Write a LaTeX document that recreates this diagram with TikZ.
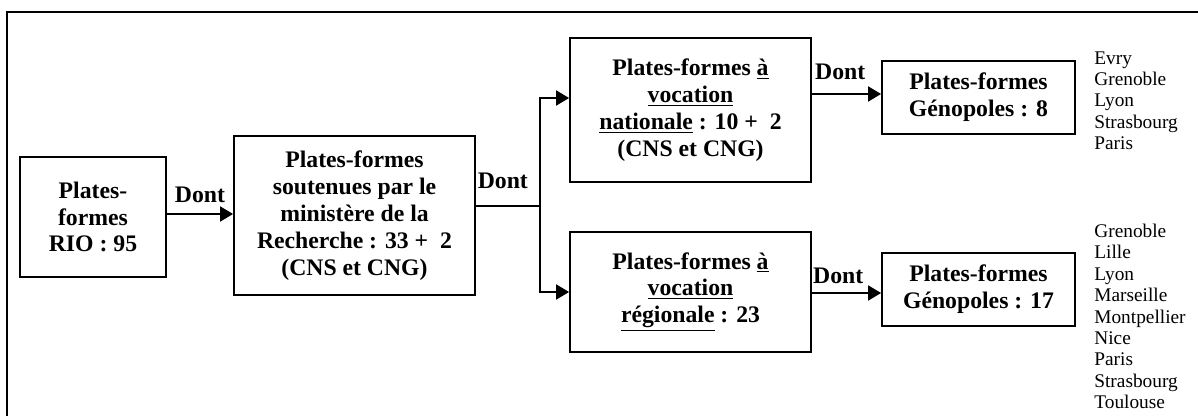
\documentclass[tikz,border=0pt]{standalone}
\usepackage{fontspec}
\setmainfont{Liberation Serif}
\usepackage{tikz}
\usetikzlibrary{arrows.meta, positioning}

\begin{document}
\begin{tikzpicture}[
        block/.style={rectangle, draw=black, line width=1pt, align=center, inner sep=2pt, font=\bfseries\fontsize{13.5}{15.3}\selectfont},
        connect/.style={line width=1pt, draw=black},
        label/.style={font=\bfseries\fontsize{13.5}{15.3}\selectfont, inner sep=2pt},
        liste/.style={anchor=north west, align=left, inner sep=0pt, font=\fontsize{11}{12.2}\selectfont},
        >={Triangle[length=2.6mm, width=3mm]}
    ]
        \useasboundingbox (0,0) rectangle (23.96,-8.32);
        % Cadre extérieur (ouvert à droite et en bas)
        \draw[line width=1pt] (0.14,-8.5) |- (24.2,-0.24);

        % Blocs
        \node[block, minimum width=2.92cm, minimum height=2.4cm] (rio) at (1.86,-4.34) {Plates-\\formes\\RIO : 95};
        \node[block, minimum width=4.82cm, minimum height=3.18cm] (min) at (7.09,-4.31) {Plates-formes\\soutenues par le\\minist\`ere de la\\Recherche : 33 +\ \ 2\\(CNS et CNG)};
        \node[block, minimum width=4.82cm, minimum height=2.88cm] (nat) at (13.81,-2.2) {Plates-formes \underline{\`a}\\\underline{vocation}\\\underline{nationale} : 10 +\ \ 2\\(CNS et CNG)};
        \node[block, minimum width=4.82cm, minimum height=2.4cm] (reg) at (13.81,-5.84) {Plates-formes \underline{\`a}\\\underline{vocation}\\\underline{r\'egionale} : 23};
        \node[block, minimum width=3.86cm, minimum height=1.46cm] (gen8) at (19.57,-1.95) {Plates-formes\\G\'enopoles : 8};
        \node[block, minimum width=3.86cm, minimum height=1.46cm] (gen17) at (19.57,-5.79) {Plates-formes\\G\'enopoles : 17};

        % Listes des villes
        \node[liste] (villes8) at (21.88,-1.02) {Evry\\Grenoble\\Lyon\\Strasbourg\\Paris};
        \node[liste] (villes17) at (21.88,-4.47) {Grenoble\\Lille\\Lyon\\Marseille\\Montpellier\\Nice\\Paris\\Strasbourg\\Toulouse};

        % Connexions
        \coordinate (split) at (10.8,-4.12);
        \draw[connect, ->] (rio.east |- 0,-4.28) -- node[label, above=4pt] {Dont} (min.west |- 0,-4.28);
        \draw[connect] (split -| min.east) -- node[label, above=7.5pt, pos=0.42] {Dont} (split);
        \draw[connect, ->] (split) |- ([yshift=0.24cm]nat.west);
        \draw[connect, ->] (split) |- (reg.west);
        \draw[connect, ->] (nat.east |- 0,-1.88) -- node[label, above=5.5pt, pos=0.41] {Dont} (gen8.west |- 0,-1.88);
        \draw[connect, ->] (reg.east |- 0,-5.86) -- node[label, above=3pt, pos=0.38] {Dont} (gen17.west |- 0,-5.86);
    \end{tikzpicture}
\end{document}
